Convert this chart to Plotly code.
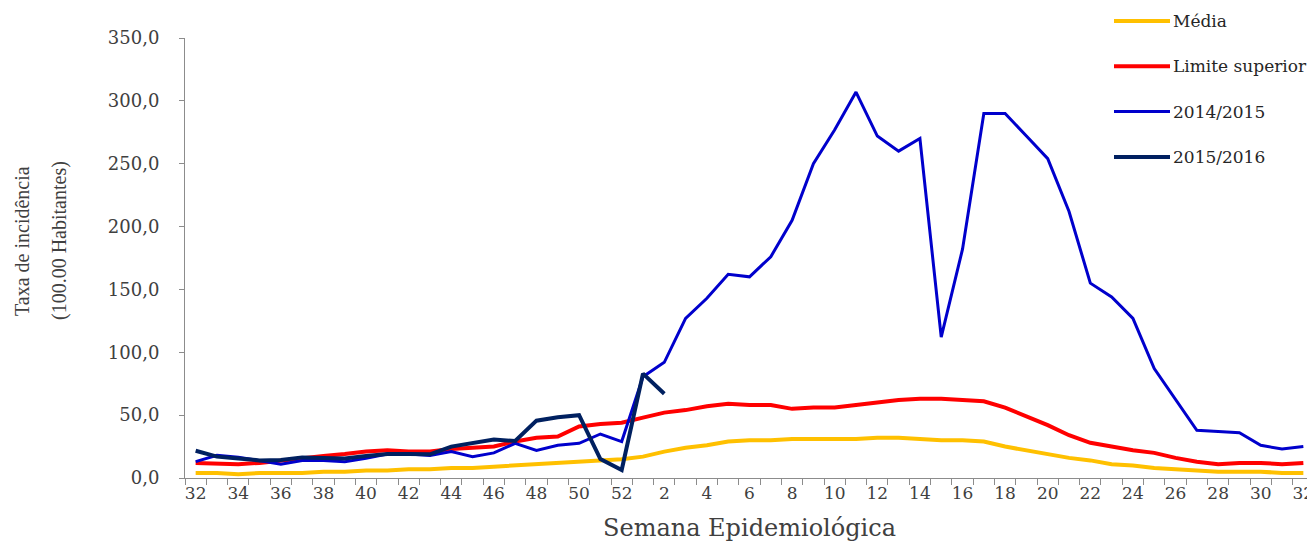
import plotly.graph_objects as go

weeks = list(range(32, 53)) + list(range(1, 33))

media = [4, 4, 3, 4, 4, 4, 5, 5, 6, 6, 7, 7, 8, 8, 9, 10, 11, 12, 13, 14, 15,
         17, 21, 24, 26, 29, 30, 30, 31, 31, 31, 31, 32, 32, 31, 30, 30, 29, 25, 22,
         19, 16, 14, 11, 10, 8, 7, 6, 5, 5, 5, 4, 4]

limite = [12, 11.6, 11, 12, 14, 16, 17.5, 19, 21, 22, 21, 21, 23, 24, 25, 29, 32, 33, 41, 43, 44,
          48, 52, 54, 57, 59, 58, 58, 55, 56, 56, 58, 60, 62, 63, 63, 62, 61, 56, 49,
          42, 34, 28, 25, 22, 20, 16, 13, 11, 12, 12, 11, 12]

s2014 = [13, 18, 16.5, 14, 11, 14, 14, 13, 15.6, 19, 19, 18, 21, 17, 20, 27.6, 22, 26, 27.6, 35, 29,
         80.6, 92, 127, 143, 162, 160, 176, 205, 250, 277, 307, 272, 260, 270, 112, 182, 290, 290, 272,
         254, 212, 155, 144, 127, 87, 62, 38, 37, 36, 26, 23, 25]

s2015 = [21.7, 17, 15.6, 14, 14.3, 16.4, 16, 15.6, 17.5, 19, 19, 18.8, 25, 28, 30.7, 29.4, 45.6, 48.3, 50, 15, 6.4,
         83, 67]

tick_idx = list(range(0, len(weeks), 2))
tick_txt = [str(weeks[i]) for i in tick_idx]
y_ticks = list(range(0, 351, 50))
y_txt = [f"{v},0" for v in y_ticks]
y_title_lines = ["Taxa de incidência", "(100.00 Habitantes)"]

FONT = "DejaVu Serif"
TFONT = "Liberation Serif"

# plot-area geometry (pixels in the page) used to place the legend and y title
PL, PW, PB, PH = 185, 1129, 478, 440

def px_x(p):
    return (p - PL) / PW

def px_y(p):
    return (PB - p) / PH

fig = go.Figure()
series = [
    ("Média", media, "#FFC000", 4),
    ("Limite superior", limite, "#FF0000", 4),
    ("2014/2015", s2014, "#0000CC", 3),
    ("2015/2016", s2015, "#002060", 4),
]
for name, vals, col, w in series:
    fig.add_trace(go.Scatter(
        x=list(range(len(vals))), y=vals, mode="lines", name=name,
        line=dict(color=col, width=w), showlegend=False,
    ))

# legend drawn by hand (long line samples as in the reference)
for k, (name, vals, col, w) in enumerate(series):
    yy = px_y(21 + 45.3 * k)
    fig.add_shape(type="line", xref="paper", yref="paper",
                  x0=px_x(1114), x1=px_x(1170), y0=yy, y1=yy,
                  line=dict(color=col, width=w))
    fig.add_annotation(text=name, xref="paper", yref="paper", x=px_x(1171), y=yy,
                       xanchor="left", yanchor="middle", showarrow=False,
                       font=dict(family=FONT, size=17, color="#262626"))

fig.update_layout(
    width=1307, height=534,
    margin=dict(l=177, r=1, t=30, b=64),
    plot_bgcolor="white", paper_bgcolor="white",
    font=dict(family=FONT, color="#404040"),
    showlegend=False,
)
fig.update_xaxes(
    range=[-0.5, 52.5], tickmode="array", tickvals=tick_idx, ticktext=tick_txt,
    ticks="", showgrid=False, zeroline=False,
    showline=True, linecolor="#8c8c8c", linewidth=1,
    tickfont=dict(family=FONT, size=17, color="#404040"),
    minor=dict(tick0=-0.5, dtick=1, ticks="outside", ticklen=6, tickcolor="#8c8c8c", showgrid=False),
    title=dict(text="Semana Epidemiológica", font=dict(family=FONT, size=24, color="#404040"), standoff=17),
)
fig.update_yaxes(
    range=[0, 350], tickmode="array", tickvals=y_ticks, ticktext=y_txt,
    ticks="outside", ticklen=5, tickcolor="#8c8c8c", ticklabelstandoff=16,
    showgrid=False, zeroline=False,
    showline=True, linecolor="#8c8c8c", linewidth=1,
    tickfont=dict(family=FONT, size=18, color="#404040"),
)
for txt, p in zip(y_title_lines, [22, 60]):
    fig.add_annotation(
        text=txt, xref="paper", yref="paper",
        x=px_x(p), y=px_y(241),
        xanchor="center", yanchor="middle", textangle=-90, showarrow=False,
        font=dict(family=TFONT, size=20, color="#404040"),
    )

fig.write_html("out.html")
